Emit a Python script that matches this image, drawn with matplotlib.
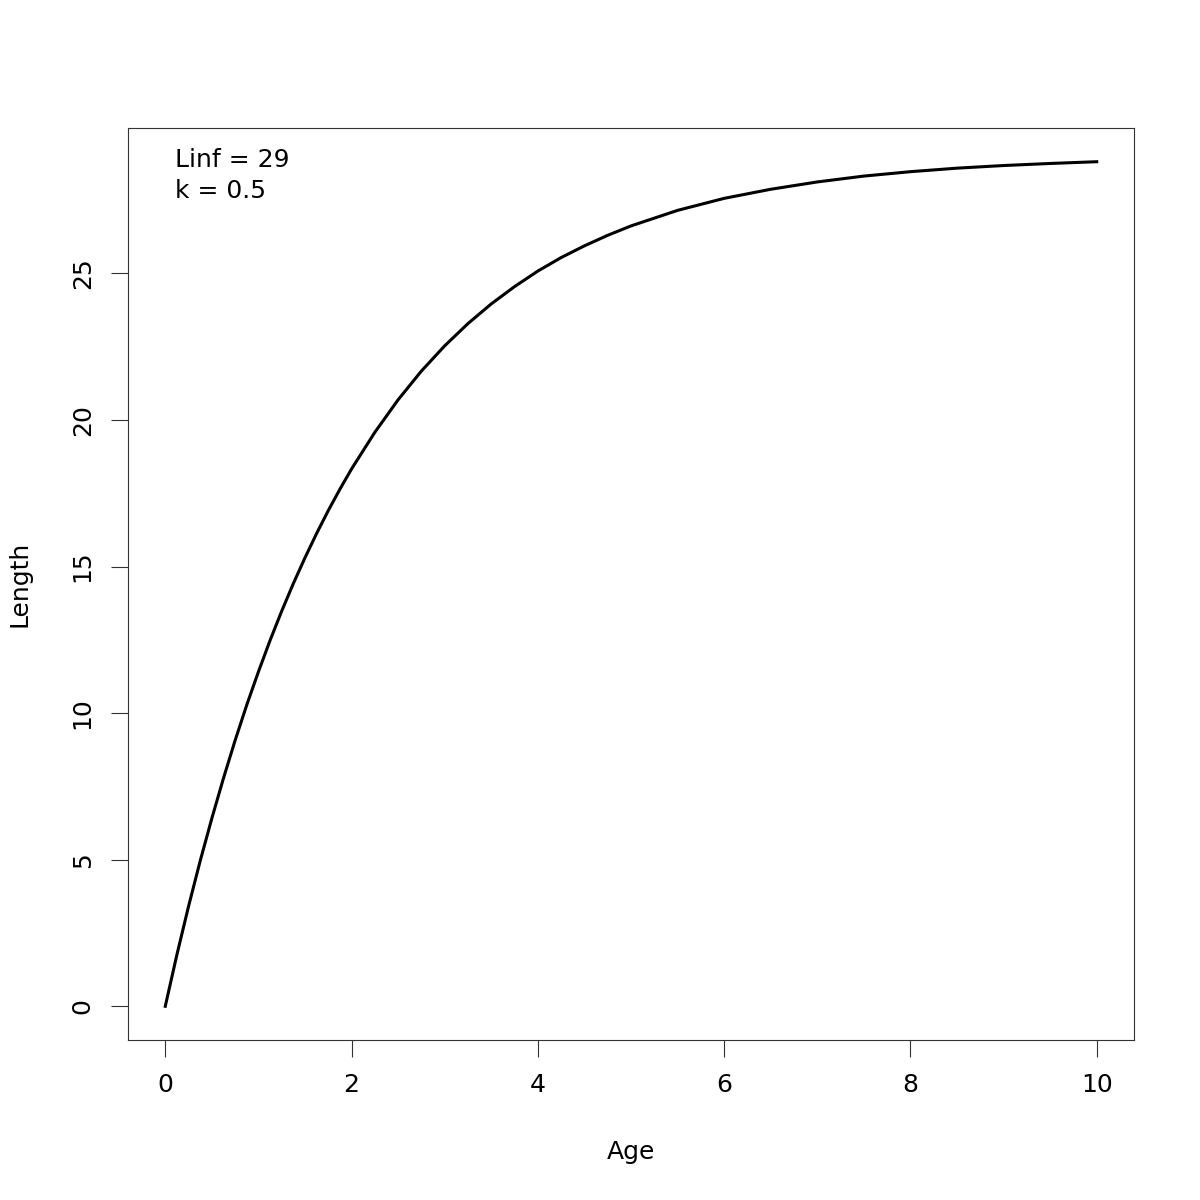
import matplotlib
matplotlib.use("Agg")
import matplotlib.pyplot as plt

# Values
age = [0, 0.125, 0.25, 0.375, 0.5, 0.625, 0.75, 0.875, 1, 1.125, 1.25, 1.375, 1.5,
       1.625, 1.75, 1.875, 2, 2.25, 2.5, 2.75, 3, 3.25, 3.5, 3.75,
       4, 4.25, 4.5, 4.75, 5, 5.5, 6, 6.5, 7, 7.5, 8, 8.5, 9, 9.5, 10]
length = [0, 1.76, 3.41, 4.96, 6.41, 7.78, 9.07, 10.28, 11.41, 12.48, 13.48, 14.42,
          15.30, 16.13, 16.91, 17.64, 18.33, 19.58, 20.69, 21.67,
          22.53, 23.29, 23.96, 24.55, 25.08, 25.54, 25.94, 26.30, 26.62, 27.15, 27.56,
          27.87, 28.12, 28.32, 28.47, 28.59, 28.68, 28.75, 28.81]
xticks = [0, 2, 4, 6, 8, 10]
yticks = [0, 5, 10, 15, 20, 25]
annot = ["Linf = 29", "k = 0.5"]

plt.rcParams['font.family'] = ['DejaVu Sans']
fs = 18
fig = plt.figure(figsize=(12, 12), dpi=100)
ax = fig.add_axes([128/1200, 1 - 1040/1200, (1134-128)/1200, (1040-128)/1200])
ax.plot(age, length, color='black', lw=2.2, solid_joinstyle='round')
ax.set_xlim(-0.4, 10.4)
ax.set_ylim(-1.15, 29.96)
ax.set_xticks(xticks)
ax.set_yticks(yticks)
ax.set_xticklabels([str(v) for v in xticks], fontsize=fs)
ax.set_yticklabels([str(v) for v in yticks], fontsize=fs, rotation=90, va='center')
ax.tick_params(length=12, width=0.8, pad=12, color='#333333')
for s in ax.spines.values():
    s.set_color('#333333')
    s.set_linewidth(0.8)
ax.set_xlabel("Age", fontsize=fs, labelpad=31)
ax.set_ylabel("Length", fontsize=fs, labelpad=28)
ax.text(175, 1200-160, annot[0], transform=None, fontsize=fs, va='center', ha='left')
ax.text(175, 1200-191, annot[1], transform=None, fontsize=fs, va='center', ha='left')
fig.savefig("out.png", dpi=100)
